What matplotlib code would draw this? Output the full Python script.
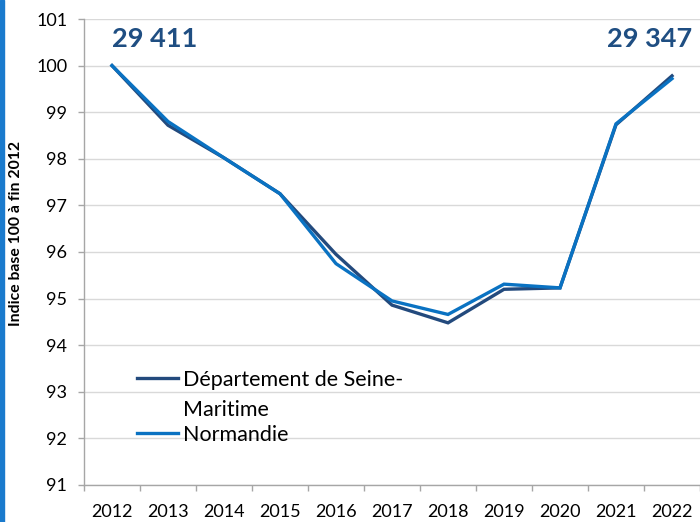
import matplotlib.pyplot as plt
from matplotlib.lines import Line2D
from matplotlib.patches import Rectangle

# Données
annees = ['2012', '2013', '2014', '2015', '2016', '2017', '2018', '2019', '2020', '2021', '2022']
seine_maritime = [100.0, 98.72, 98.02, 97.25, 95.95, 94.86, 94.48, 95.20, 95.23, 98.73, 99.78]
normandie = [100.0, 98.80, 98.02, 97.25, 95.75, 94.95, 94.66, 95.31, 95.23, 98.75, 99.72]
lbl_dept = ['Département de Seine-', 'Maritime']
lbl_norm = 'Normandie'
val_debut = '29 411'
val_fin = '29 347'

c_dept = '#234A7D'
c_norm = '#0A72C2'
c_grid = '#D9D9D9'
c_axe = '#A6A6A6'

plt.rcParams['font.family'] = ['Lato', 'DejaVu Sans']

fig = plt.figure(figsize=(7, 5.22), dpi=100)
ax = fig.add_axes([0.12, 0.0709, 0.88, 0.8927])

x = range(len(annees))
ax.plot(x, seine_maritime, color=c_dept, lw=2.4, solid_joinstyle='miter', zorder=3)
ax.plot(x, normandie, color=c_norm, lw=2.4, solid_joinstyle='miter', zorder=4)

ax.set_xlim(-0.5, len(annees) - 0.5)
ax.set_ylim(91, 101)
ax.set_yticks(range(91, 102))
ax.set_xticks(list(x))
ax.set_xticklabels(annees)
ax.set_xticks([i - 0.5 for i in range(len(annees) + 1)], minor=True)
ax.tick_params(axis='x', which='major', length=0, pad=14, labelsize=13)
ax.tick_params(axis='x', which='minor', length=4, color=c_axe, width=1)
ax.tick_params(axis='y', length=4, color=c_axe, width=1, pad=8, labelsize=13)

ax.grid(axis='y', color=c_grid, lw=1)
ax.set_axisbelow(True)
for s in ['top', 'right']:
    ax.spines[s].set_visible(False)
for s in ['left', 'bottom']:
    ax.spines[s].set_color(c_axe)
    ax.spines[s].set_linewidth(1)

ax.set_ylabel('Indice base 100 à fin 2012', fontsize=11.3, fontweight='bold')
ax.yaxis.set_label_coords(-0.099, 0.539)

# Valeurs absolues début/fin
ax.text(0, 100.57, val_debut, color='#1F4E82', fontsize=19.5, fontweight='bold', ha='left', va='center')
ax.text(10.36, 100.57, val_fin, color='#1F4E82', fontsize=19.5, fontweight='bold', ha='right', va='center')

# Légende manuelle
ax.add_line(Line2D([0.086, 0.153], [0.2296, 0.2296], transform=ax.transAxes, color=c_dept, lw=2.4, clip_on=False))
ax.text(0.161, 0.225, lbl_dept[0], transform=ax.transAxes, fontsize=15.5, va='center')
ax.text(0.161, 0.161, lbl_dept[1], transform=ax.transAxes, fontsize=15.5, va='center')
ax.add_line(Line2D([0.086, 0.153], [0.1116, 0.1116], transform=ax.transAxes, color=c_norm, lw=2.4, clip_on=False))
ax.text(0.161, 0.107, lbl_norm, transform=ax.transAxes, fontsize=15.5, va='center')

# Bordure bleue à gauche
fig.patches.append(Rectangle((0, 0), 0.005, 1, transform=fig.transFigure, color='#1A7ACD'))

fig.savefig('out.png', dpi=100)
